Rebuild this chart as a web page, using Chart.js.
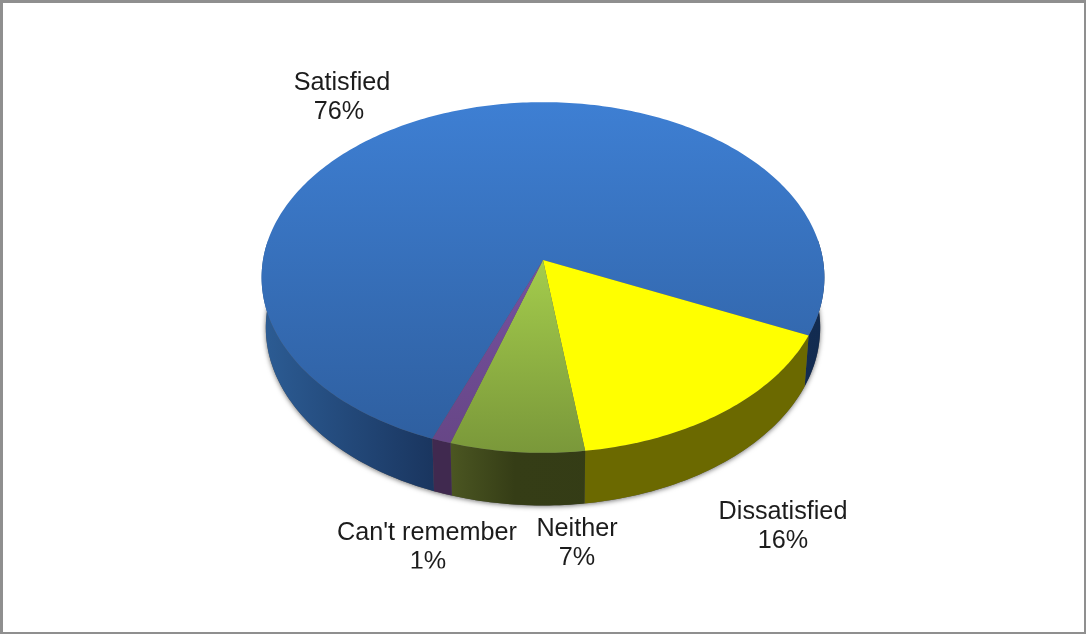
<!DOCTYPE html>
<html>
<head>
<meta charset="utf-8">
<title>Satisfaction</title>
<script src="https://cdn.jsdelivr.net/npm/chart.js@4/dist/chart.umd.min.js"></script>
<style>
  html, body { margin: 0; padding: 0; background: #fff; }
  #wrap { position: relative; width: 1086px; height: 634px; overflow: hidden; }
  #wrap canvas { display: block; }
  #frame { position: absolute; inset: 0; box-sizing: border-box; border: solid #8f8f8f; border-width: 3px 2px 2px 3px; pointer-events: none; }
</style>
</head>
<body>
<div id="wrap">
  <canvas id="idPie" width="1086" height="634"></canvas>
  <div id="frame"></div>
</div>
<script>
const categories = ['Satisfied', 'Dissatisfied', 'Neither', "Can't remember"];
const shares = [76, 16, 7, 1];

// surface colours go top to bottom, wall stops are fractions of the whole pie width
const topColors = [['#3e7fd3', '#2e5e9e'], ['#ffff00', '#ffff00'], ['#a4cc4c', '#7a983a'], ['#7650a0', '#664685']];
const wallColors = [
    [[0, '#2c5c94'], [0.3, '#1a3660'], [1, '#122b50']],
    [[0, '#6b6900'], [1, '#6b6900']],
    [[0.33, '#4c5722'], [0.45, '#353d16'], [1, '#323a15']],
    [[0, '#40294f'], [1, '#40294f']]
];
// x of the name, baseline of the name, x of the percentage
const labelSpots = [[342, 90, 339], [783, 519, 783], [577, 536, 577], [427, 540, 428]];
const lineGap = 29;
// the reference cuts off the lowest label here
const labelClipY = 568.5;

// the look of the tilted pie
const tilt = { perspective: 0.0997, squash: 0.62, depth: 50, rimScale: 0.985 };

function project(arc, angle, lower) {
    let u = Math.cos(angle), v = Math.sin(angle);
    let w = 1 / (1 - tilt.perspective * v);
    let s = lower ? tilt.rimScale : 1;
    return {
        x: arc.x + arc.outerRadius * u * w * s,
        y: arc.y + arc.outerRadius * tilt.squash * v * w * s + (lower ? tilt.depth * w : 0)
    };
}

function anglesOf(arc) {
    let list = [];
    let n = Math.max(2, Math.ceil((arc.endAngle - arc.startAngle) * 60));
    for (let i = 0; i <= n; i++) list.push(arc.startAngle + (arc.endAngle - arc.startAngle) * i / n);
    return list;
}

function drawWall(ctx, arc, stops) {
    // split the arc in runs that face the viewer
    let runs = [], run = [];
    for (let a of anglesOf(arc)) {
        if (Math.sin(a) > -0.12) run.push(a);
        else if (run.length) { runs.push(run); run = []; }
    }
    if (run.length) runs.push(run);

    let grad = ctx.createLinearGradient(arc.x - arc.outerRadius, 0, arc.x + arc.outerRadius, 0);
    for (let s of stops) grad.addColorStop(s[0], s[1]);

    for (let r of runs) {
        ctx.beginPath();
        r.forEach((a, i) => {
            let p = project(arc, a, false);
            if (i === 0) ctx.moveTo(p.x, p.y); else ctx.lineTo(p.x, p.y);
        });
        r.slice().reverse().forEach(a => {
            let p = project(arc, a, true);
            ctx.lineTo(p.x, p.y);
        });
        ctx.closePath();
        ctx.fillStyle = grad;
        ctx.fill();
    }
}

function drawShadow(ctx, arcs) {
    ctx.save();
    ctx.shadowColor = 'rgba(0,0,0,0.55)';
    ctx.shadowBlur = 5;
    ctx.shadowOffsetY = 1;
    ctx.fillStyle = '#555';
    ctx.beginPath();
    for (let i = 0; i <= 360; i++) {
        let p = project(arcs[0], i * Math.PI / 180, true);
        if (i === 0) ctx.moveTo(p.x, p.y); else ctx.lineTo(p.x, p.y);
    }
    ctx.closePath();
    ctx.fill();
    ctx.restore();
}

function drawTop(ctx, arc, colors, box) {
    let grad = ctx.createLinearGradient(0, box.top, 0, box.bottom);
    grad.addColorStop(0, colors[0]);
    grad.addColorStop(1, colors[1]);
    ctx.beginPath();
    ctx.moveTo(arc.x, arc.y);
    for (let a of anglesOf(arc)) {
        let p = project(arc, a, false);
        ctx.lineTo(p.x, p.y);
    }
    ctx.closePath();
    ctx.fillStyle = grad;
    ctx.fill();
}

const tiltedPie = {
    id: 'tiltedPie',
    beforeDatasetsDraw(chart) {
        let ctx = chart.ctx;
        let arcs = chart.getDatasetMeta(0).data;
        drawShadow(ctx, arcs);
        arcs.forEach((arc, i) => drawWall(ctx, arc, wallColors[i]));

        // gradient of blue covers the whole disc, the small slices only their own wedge
        let top = project(arcs[0], -Math.PI / 2, false).y;
        let bottom = project(arcs[0], Math.PI / 2, false).y;
        arcs.forEach((arc, i) => {
            let box = i === 0 ? { top: top, bottom: bottom } : { top: arc.y, bottom: bottom };
            drawTop(ctx, arc, topColors[i], box);
        });

        ctx.save();
        ctx.beginPath();
        ctx.rect(0, 0, chart.width, labelClipY);
        ctx.clip();
        ctx.fillStyle = '#1c1c1c';
        ctx.font = '25.2px "Liberation Sans", Arial, sans-serif';
        ctx.textAlign = 'center';
        ctx.textBaseline = 'alphabetic';
        ctx.filter = 'blur(0.4px)';
        categories.forEach((name, i) => {
            ctx.fillText(name, labelSpots[i][0], labelSpots[i][1]);
            ctx.fillText(shares[i] + '%', labelSpots[i][2], labelSpots[i][1] + lineGap);
        });
        ctx.restore();
        return false;
    }
};

var ctx = document.getElementById('idPie').getContext('2d');
var idPie = new Chart(ctx, {
    type: 'pie',
    data: {
        labels: categories,
        datasets: [{
            data: shares,
            backgroundColor: topColors.map(c => c[0]),
            borderWidth: 0
        }]
    },
    options: {
        responsive: false,
        animation: false,
        rotation: -159,
        radius: 280,
        layout: { padding: { bottom: 114 } },
        plugins: {
            legend: { display: false },
            tooltip: { enabled: false }
        }
    },
    plugins: [tiltedPie]
});
</script>
</body>
</html>
